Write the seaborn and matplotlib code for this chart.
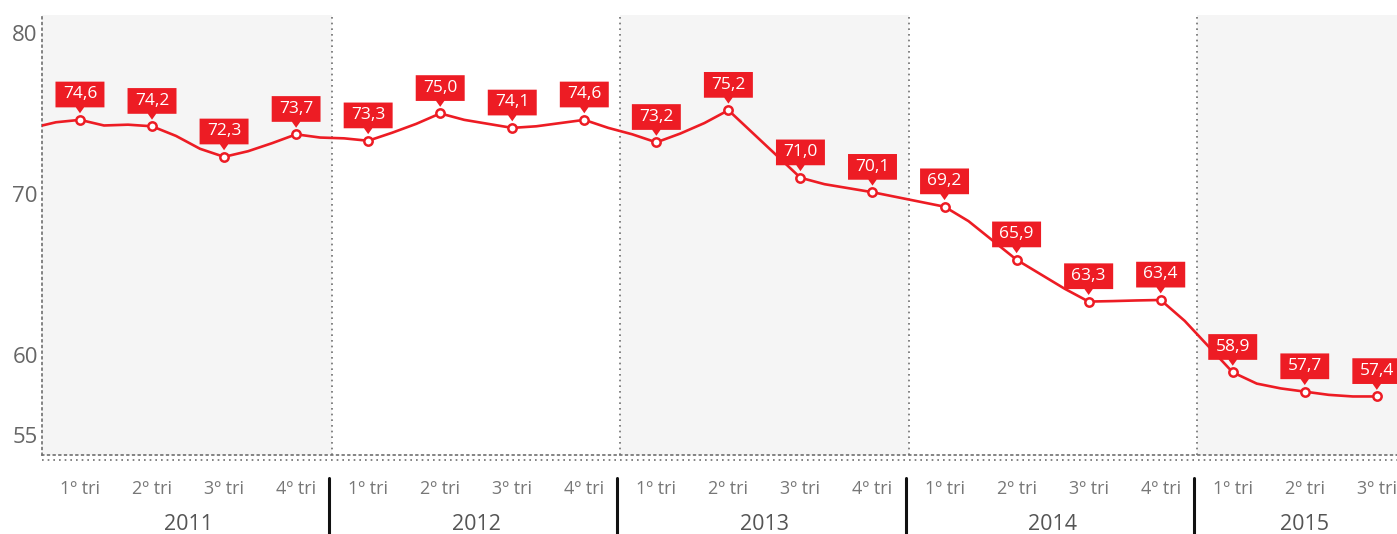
import numpy as np
import pandas as pd
import matplotlib
matplotlib.use("Agg")
import matplotlib.pyplot as plt
import matplotlib.transforms as mtransforms
from matplotlib.path import Path
import seaborn as sns

# ---------------- data ----------------
years = ["2011", "2012", "2013", "2014", "2015"]
quarter_labels = ["1º tri", "2º tri", "3º tri", "4º tri"] * 4 + ["1º tri", "2º tri", "3º tri"]
quarter_values = [74.6, 74.2, 72.3, 73.7,
                  73.3, 75.0, 74.1, 74.6,
                  73.2, 75.2, 71.0, 70.1,
                  69.2, 65.9, 63.3, 63.4,
                  58.9, 57.7, 57.4]
# monthly series (starts two months before 1º tri 2011)
monthly_values = [74.1, 74.45,
                  74.6, 74.25, 74.3, 74.2, 73.6, 72.8, 72.3, 72.65, 73.15, 73.7, 73.5, 73.45,
                  73.3, 73.8, 74.35, 75.0, 74.6, 74.35, 74.1, 74.2, 74.4, 74.6, 74.1, 73.7,
                  73.2, 73.75, 74.4, 75.2, 73.8, 72.4, 71.0, 70.6, 70.35, 70.1, 69.8, 69.5,
                  69.2, 68.3, 67.1, 65.9, 65.0, 64.1, 63.3, 63.33, 63.37, 63.4, 62.1, 60.5,
                  58.9, 58.2, 57.9, 57.7, 57.5, 57.4, 57.4]
y_ticks = [55, 60, 70, 80]

# ---------------- style ----------------
sns.set_style("white")
plt.rcParams["font.family"] = ["Open Sans", "DejaVu Sans"]

RED = "#ed1c24"
GRID = "#6f6f6f"
BAND = "#f5f5f5"

fig = plt.figure(figsize=(13.97, 5.34), dpi=100)
W, H = 1397, 534
ax_left, ax_right, ax_top, ax_bottom = 42, 1397, 15, 455
ax = fig.add_axes([ax_left / W, 1 - ax_bottom / H, (ax_right - ax_left) / W, (ax_bottom - ax_top) / H])

n_q = len(quarter_values)
qx = np.arange(n_q)
mx = (np.arange(len(monthly_values)) - 2) / 3.0

df_q = pd.DataFrame({"x": qx, "v": quarter_values, "lab": quarter_labels})
df_m = pd.DataFrame({"x": mx, "v": monthly_values})

# shaded year bands and dotted separators
n_years = len(years)
for i in range(n_years):
    start = i * 4 - 0.5
    end = min(start + 4, n_q - 0.5)
    if i % 2 == 0:
        ax.axvspan(start if i > 0 else -1, end if i < n_years - 1 else n_q + 1, color=BAND, zorder=0, lw=0)
    if i > 0:
        ax.axvline(start, color=GRID, lw=1.2, ls=(0, (1, 2.4)), zorder=1)

sns.lineplot(data=df_m, x="x", y="v", ax=ax, color=RED, lw=1.9, zorder=3, legend=False)
sns.scatterplot(data=df_q, x="x", y="v", ax=ax, s=36, facecolor="white", edgecolor=RED,
                linewidth=1.8, zorder=4, legend=False)


def label_box(x0, y0, width, height, mutation_size):
    padx = 0.42 * mutation_size
    pad_top = 0.26 * mutation_size
    pad_bot = 0.30 * mutation_size
    x0 -= padx
    y0 -= pad_bot
    x1 = x0 + width + 2 * padx
    y1 = y0 + height + pad_bot + pad_top
    xc = (x0 + x1) / 2
    tw = 0.24 * mutation_size
    th = 0.34 * mutation_size
    verts = [(x0, y0), (xc - tw, y0), (xc, y0 - th), (xc + tw, y0), (x1, y0),
             (x1, y1), (x0, y1), (x0, y0)]
    codes = [Path.MOVETO] + [Path.LINETO] * 6 + [Path.CLOSEPOLY]
    return Path(verts, codes)


for x, v in zip(qx, quarter_values):
    ax.annotate(f"{v:.1f}".replace(".", ","), xy=(x, v), xytext=(0, 18.5),
                textcoords="offset points", ha="center", va="center",
                fontsize=12.5, color="white", zorder=6,
                bbox=dict(boxstyle=label_box, fc=RED, ec="none"))

ax.set_xlim(-0.527, 18.28)
ax.set_ylim(53.76, 81.12)
ax.set_yticks(y_ticks)
ax.set_yticklabels([str(t) for t in y_ticks], fontsize=16, color="#666666")
ax.set_xticks(qx)
ax.set_xticklabels(quarter_labels, fontsize=13, color="#777777")
ax.tick_params(axis="y", length=0, pad=3)
ax.tick_params(axis="x", length=0, pad=18)
ax.set_xlabel("")
ax.set_ylabel("")

for s in ["top", "right"]:
    ax.spines[s].set_visible(False)
for s in ["left", "bottom"]:
    ax.spines[s].set_color(GRID)
    ax.spines[s].set_linestyle((0, (1, 2.4)))
    ax.spines[s].set_linewidth(1.2)

# second dotted line under the axis
ax_h = ax_bottom - ax_top
ax.plot([0, 1], [-4.5 / ax_h] * 2, transform=ax.transAxes, clip_on=False,
        color=GRID, lw=1.2, ls=(0, (1, 2.4)))

# year labels and black separators
trans = mtransforms.blended_transform_factory(ax.transData, ax.transAxes)
for i, yr in enumerate(years):
    start = i * 4 - 0.5
    end = min(start + 4, n_q - 0.5)
    ax.text((start + end) / 2, -(524 - ax_bottom) / ax_h, yr, transform=trans,
            ha="center", va="center", fontsize=15.5, color="#555555")
    if i > 0:
        ax.plot([start - 0.04, start - 0.04], [-(478 - ax_bottom) / ax_h, -(534 - ax_bottom) / ax_h],
                transform=trans, clip_on=False, color="#111111", lw=2.2)

fig.savefig("out.png", dpi=100)
